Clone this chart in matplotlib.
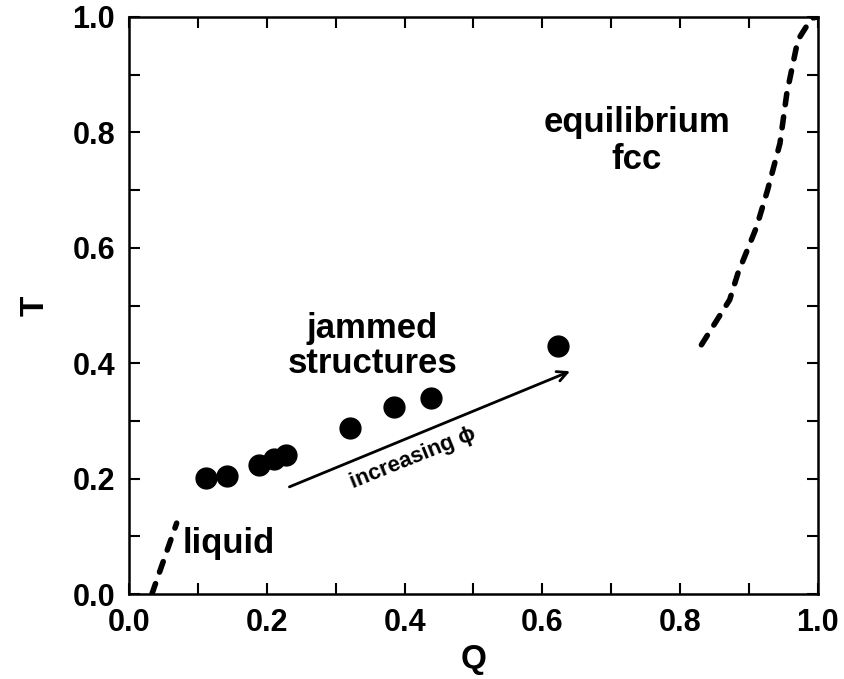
import matplotlib
matplotlib.use("Agg")
import matplotlib.pyplot as plt
from matplotlib.ticker import MultipleLocator

plt.rcParams["font.family"] = ["Liberation Sans", "DejaVu Sans"]
plt.rcParams["font.weight"] = "bold"

# jammed structures (Q, T)
jam_q = [0.112, 0.142, 0.189, 0.210, 0.228, 0.321, 0.385, 0.438, 0.623]
jam_t = [0.201, 0.205, 0.224, 0.234, 0.241, 0.288, 0.324, 0.340, 0.430]

# equilibrium fcc branch
fcc_q = [0.831, 0.872, 0.884, 0.911, 0.927, 0.945, 0.955, 0.971, 0.991, 1.0]
fcc_t = [0.432, 0.510, 0.556, 0.636, 0.700, 0.781, 0.868, 0.960, 0.998, 1.0]

# liquid branch
liq_q = [0.033, 0.069]
liq_t = [0.0, 0.123]

fig = plt.figure(figsize=(8.44, 6.79), dpi=100)
ax = fig.add_axes([0.153, 0.125, 0.816, 0.850])

dash = dict(color="black", lw=4, ls=(0, (2.0, 2.2)), dash_capstyle="round")
ax.plot(fcc_q, fcc_t, **dash)
ax.plot(liq_q, liq_t, **dash)
ax.plot(jam_q, jam_t, "o", color="black", ms=15)

ax.annotate("", xy=(0.644, 0.388), xytext=(0.229, 0.184),
            arrowprops=dict(arrowstyle="->", color="black", lw=2,
                            mutation_scale=18))
ax.text(0.412, 0.236, "increasing \u03d5", fontsize=16, fontweight="bold",
        rotation=22, ha="center", va="center")

ax.text(0.353, 0.430, "jammed\nstructures", fontsize=25, fontweight="bold",
        ha="center", va="center", linespacing=1.1)
ax.text(0.737, 0.785, "equilibrium\nfcc", fontsize=25, fontweight="bold",
        ha="center", va="center", linespacing=1.15)
ax.text(0.078, 0.088, "liquid", fontsize=25, fontweight="bold",
        ha="left", va="center")

ax.set_xlim(0, 1)
ax.set_ylim(0, 1)
ax.xaxis.set_major_locator(MultipleLocator(0.2))
ax.yaxis.set_major_locator(MultipleLocator(0.2))
ax.xaxis.set_minor_locator(MultipleLocator(0.1))
ax.yaxis.set_minor_locator(MultipleLocator(0.1))
ax.tick_params(which="both", direction="in", top=True, right=True,
               length=8, width=1.5, labelsize=22, pad=10)
for lab in ax.get_xticklabels() + ax.get_yticklabels():
    lab.set_fontweight("bold")
for sp in ax.spines.values():
    sp.set_linewidth(1.8)

ax.set_xlabel("Q", fontsize=24, fontweight="bold", labelpad=4)
ax.set_ylabel("T", fontsize=24, fontweight="bold", labelpad=16)

fig.savefig("out.png", dpi=100)
